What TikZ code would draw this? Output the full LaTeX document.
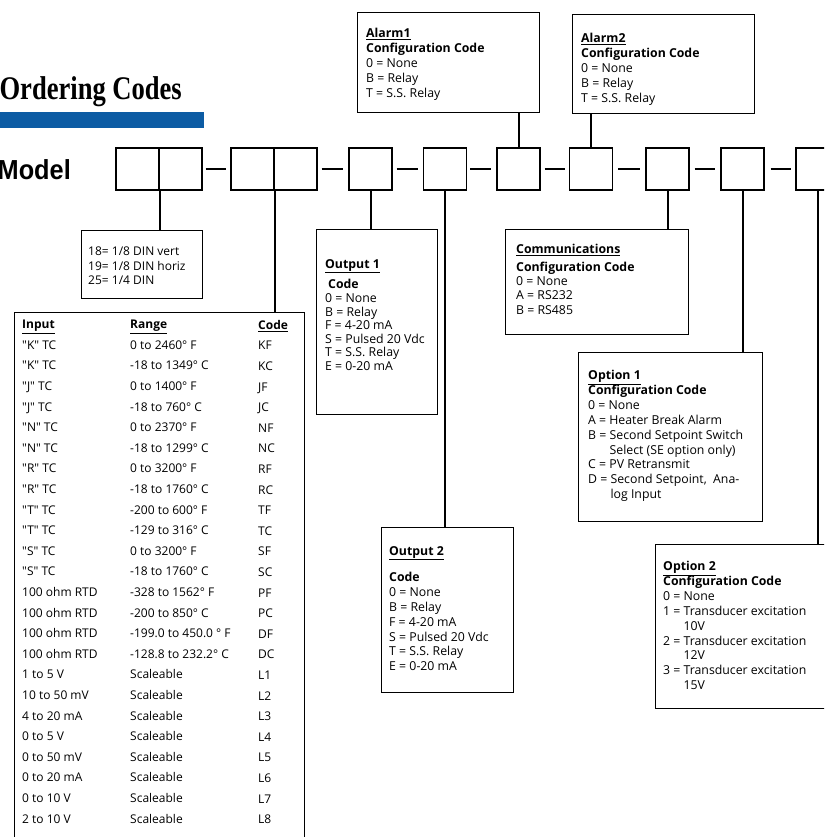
\documentclass[tikz,border=0pt]{standalone}
\usepackage{fontspec}
\usepackage{graphicx}
\setmainfont{Open Sans}[Ligatures=TeXOff]
\newfontfamily\titlefont{Liberation Serif}
\newfontfamily\modelfont{Liberation Sans}
\usetikzlibrary{positioning,calc}
\definecolor{titleblue}{HTML}{0C5CA4}
\tikzset{
  slot/.style={draw,line width=1.2pt,minimum width=43pt,minimum height=42pt,inner sep=0},
  frame/.style={draw,line width=1.2pt,inner sep=0,anchor=north west},
  txt/.style={anchor=north west,align=left,inner sep=0,font=\fontsize{12.3}{15}\selectfont},
  col/.style={txt,font=\fontsize{12}{20.6}\selectfont},
  wire/.style={line width=2pt},
  joiner/.style={line width=2pt},
}
\newcommand{\hd}[1]{\underline{\textbf{#1}}}

\begin{document}
\begin{tikzpicture}[x=1pt,y=-1pt]
  \clip (0,0) rectangle (824,837);
  % heading
  \node[anchor=base east,inner sep=0] (title) at (182,100)
    {\scalebox{0.805}[1]{\titlefont\bfseries\fontsize{33}{33}\selectfont Ordering Codes}};
  \fill[titleblue] (0,112) rectangle (204,128);
  \node[anchor=base east,inner sep=0] (model) at (71,179)
    {\scalebox{0.92}[1]{\modelfont\bfseries\fontsize{27.5}{27.5}\selectfont Model}};
  % the row of code slots
  \node[slot] (b1a) at (137.5,169) {};
  \node[slot] (b1b) at (180.5,169) {};
  \node[slot] (b2a) at (252.5,169) {};
  \node[slot] (b2b) at (295.5,169) {};
  \node[slot] (b3) at (370.5,169) {};
  \node[slot] (b4) at (445,169) {};
  \node[slot] (b5) at (518.5,169) {};
  \node[slot] (b6) at (591,169) {};
  \node[slot] (b7) at (667.5,169) {};
  \node[slot] (b8) at (742.5,169) {};
  \node[slot] (b9) at (817.5,169) {};
  \draw[joiner] ([xshift=3pt]b1b.east) -- ([xshift=-4pt]b2a.west);
  \draw[joiner] ([xshift=4pt]b2b.east) -- ([xshift=-5pt]b3.west);
  \draw[joiner] ([xshift=4pt]b3.east) -- ([xshift=-5pt]b4.west);
  \draw[joiner] ([xshift=3pt]b4.east) -- ([xshift=-5pt]b5.west);
  \draw[joiner] ([xshift=4pt]b5.east) -- ([xshift=-4pt]b6.west);
  \draw[joiner] ([xshift=5pt]b6.east) -- ([xshift=-5pt]b7.west);
  \draw[joiner] ([xshift=5pt]b7.east) -- ([xshift=-5pt]b8.west);
  \draw[joiner] ([xshift=6pt]b8.east) -- ([xshift=-4pt]b9.west);
  % alarm boxes above
  \node[frame,minimum width=182pt,minimum height=100pt] (alarm1) at (357,12) {};
  \node[txt] (alarm1t) at (366,28) {\hd{Alarm1}\\\textbf{Configuration Code}\\0 = None\\B = Relay\\T = S.S. Relay};
  \node[frame,minimum width=182pt,minimum height=99pt] (alarm2) at (572,14) {};
  \node[txt] (alarm2t) at (581,33) {\hd{Alarm2}\\\textbf{Configuration Code}\\0 = None\\B = Relay\\T = S.S. Relay};
  \draw[wire] (b5.north) -- (b5.north |- alarm1.south);
  \draw[wire] (b6.north) -- (b6.north |- alarm2.south);
  % model size
  \node[frame,minimum width=121pt,minimum height=68pt] (size) at (81,230) {};
  \node[txt,font=\fontsize{12}{14.5}\selectfont] (sizet) at (88,247) {18= 1/8 DIN vert\\19= 1/8 DIN horiz\\25= 1/4 DIN};
  \draw[wire] (b1a.south east) -- (b1a.south east |- size.north);
  % input table
  \node[frame,minimum width=290pt,minimum height=540pt] (inputs) at (14,312) {};
  \draw[wire] (b2a.south east) -- (b2a.south east |- inputs.north);
  \node[col] (incol) at (22,320) {\hd{Input}\\"K" TC\\"K" TC\\"J" TC\\"J" TC\\"N" TC\\"N" TC\\"R" TC\\"R" TC\\"T" TC\\"T" TC\\"S" TC\\"S" TC\\100 ohm RTD\\100 ohm RTD\\100 ohm RTD\\100 ohm RTD\\1 to 5 V\\10 to 50 mV\\4 to 20 mA\\0 to 5 V\\0 to 50 mV\\0 to 20 mA\\0 to 10 V\\2 to 10 V};
  \node[col] (rangecol) at (130,320) {\hd{Range}\\0 to 2460° F\\-18 to 1349° C\\0 to 1400° F\\-18 to 760° C\\0 to 2370° F\\-18 to 1299° C\\0 to 3200° F\\-18 to 1760° C\\-200 to 600° F\\-129 to 316° C\\0 to 3200° F\\-18 to 1760° C\\-328 to 1562° F\\-200 to 850° C\\-199.0 to 450.0 ° F\\-128.8 to 232.2° C\\Scaleable\\Scaleable\\Scaleable\\Scaleable\\Scaleable\\Scaleable\\Scaleable\\Scaleable};
  \node[col] (codecol) at (258,320) {\hd{Code}\\KF\\KC\\JF\\JC\\NF\\NC\\RF\\RC\\TF\\TC\\SF\\SC\\PF\\PC\\DF\\DC\\L1\\L2\\L3\\L4\\L5\\L6\\L7\\L8};
  % outputs
  \node[frame,minimum width=121pt,minimum height=185pt] (out1) at (316,229) {};
  \node[txt,font=\fontsize{12.3}{13.6}\selectfont] (out1t) at (325,259) {\hd{Output 1}\\[5.4pt]\hspace{3pt}\textbf{Code}\\0 = None\\B = Relay\\F = 4-20 mA\\S = Pulsed 20 Vdc\\T = S.S. Relay\\E = 0-20 mA};
  \draw[wire] (b3.south) -- (b3.south |- out1.north);
  \node[frame,minimum width=132pt,minimum height=165pt] (out2) at (381,527) {};
  \node[txt,font=\fontsize{12.3}{14.8}\selectfont] (out2t) at (389,546) {\hd{Output 2}\\[12pt]\textbf{Code}\\0 = None\\B = Relay\\F = 4-20 mA\\S = Pulsed 20 Vdc\\T = S.S. Relay\\E = 0-20 mA};
  \draw[wire] (b4.south) -- (b4.south |- out2.north);
  % communications
  \node[frame,minimum width=183pt,minimum height=105pt] (comm) at (505,229) {};
  \node[txt,font=\fontsize{12.3}{14.3}\selectfont] (commt) at (516,244) {\hd{Communications}\\[3.5pt]\textbf{Configuration Code}\\0 = None\\A = RS232\\B = RS485};
  \draw[wire] (b7.south) -- (b7.south |- comm.north);
  % options
  \node[frame,minimum width=184pt,minimum height=169pt] (opt1) at (578,352) {};
  \node[txt,font=\fontsize{12.3}{14.9}\selectfont] (opt1t) at (588,370) {\hd{Option 1}\\\textbf{Configuration Code}\\0 = None\\A = Heater Break Alarm\\B = Second Setpoint Switch\\\hphantom{B = }Select (SE option only)\\C = PV Retransmit\\D = Second Setpoint,\ \ Ana-\\\hphantom{D = }log Input};
  \draw[wire] (b8.south) -- (b8.south |- opt1.north);
  \node[frame,minimum width=190pt,minimum height=164pt] (opt2) at (655,544) {};
  \node[txt,font=\fontsize{12.3}{14.9}\selectfont] (opt2t) at (663,561) {\hd{Option 2}\\\textbf{Configuration Code}\\0 = None\\1 = Transducer excitation\\\hphantom{1 = }10V\\2 = Transducer excitation\\\hphantom{2 = }12V\\3 = Transducer excitation\\\hphantom{3 = }15V};
  \draw[wire] (b9.south) -- (b9.south |- opt2.north);
\end{tikzpicture}
\end{document}
